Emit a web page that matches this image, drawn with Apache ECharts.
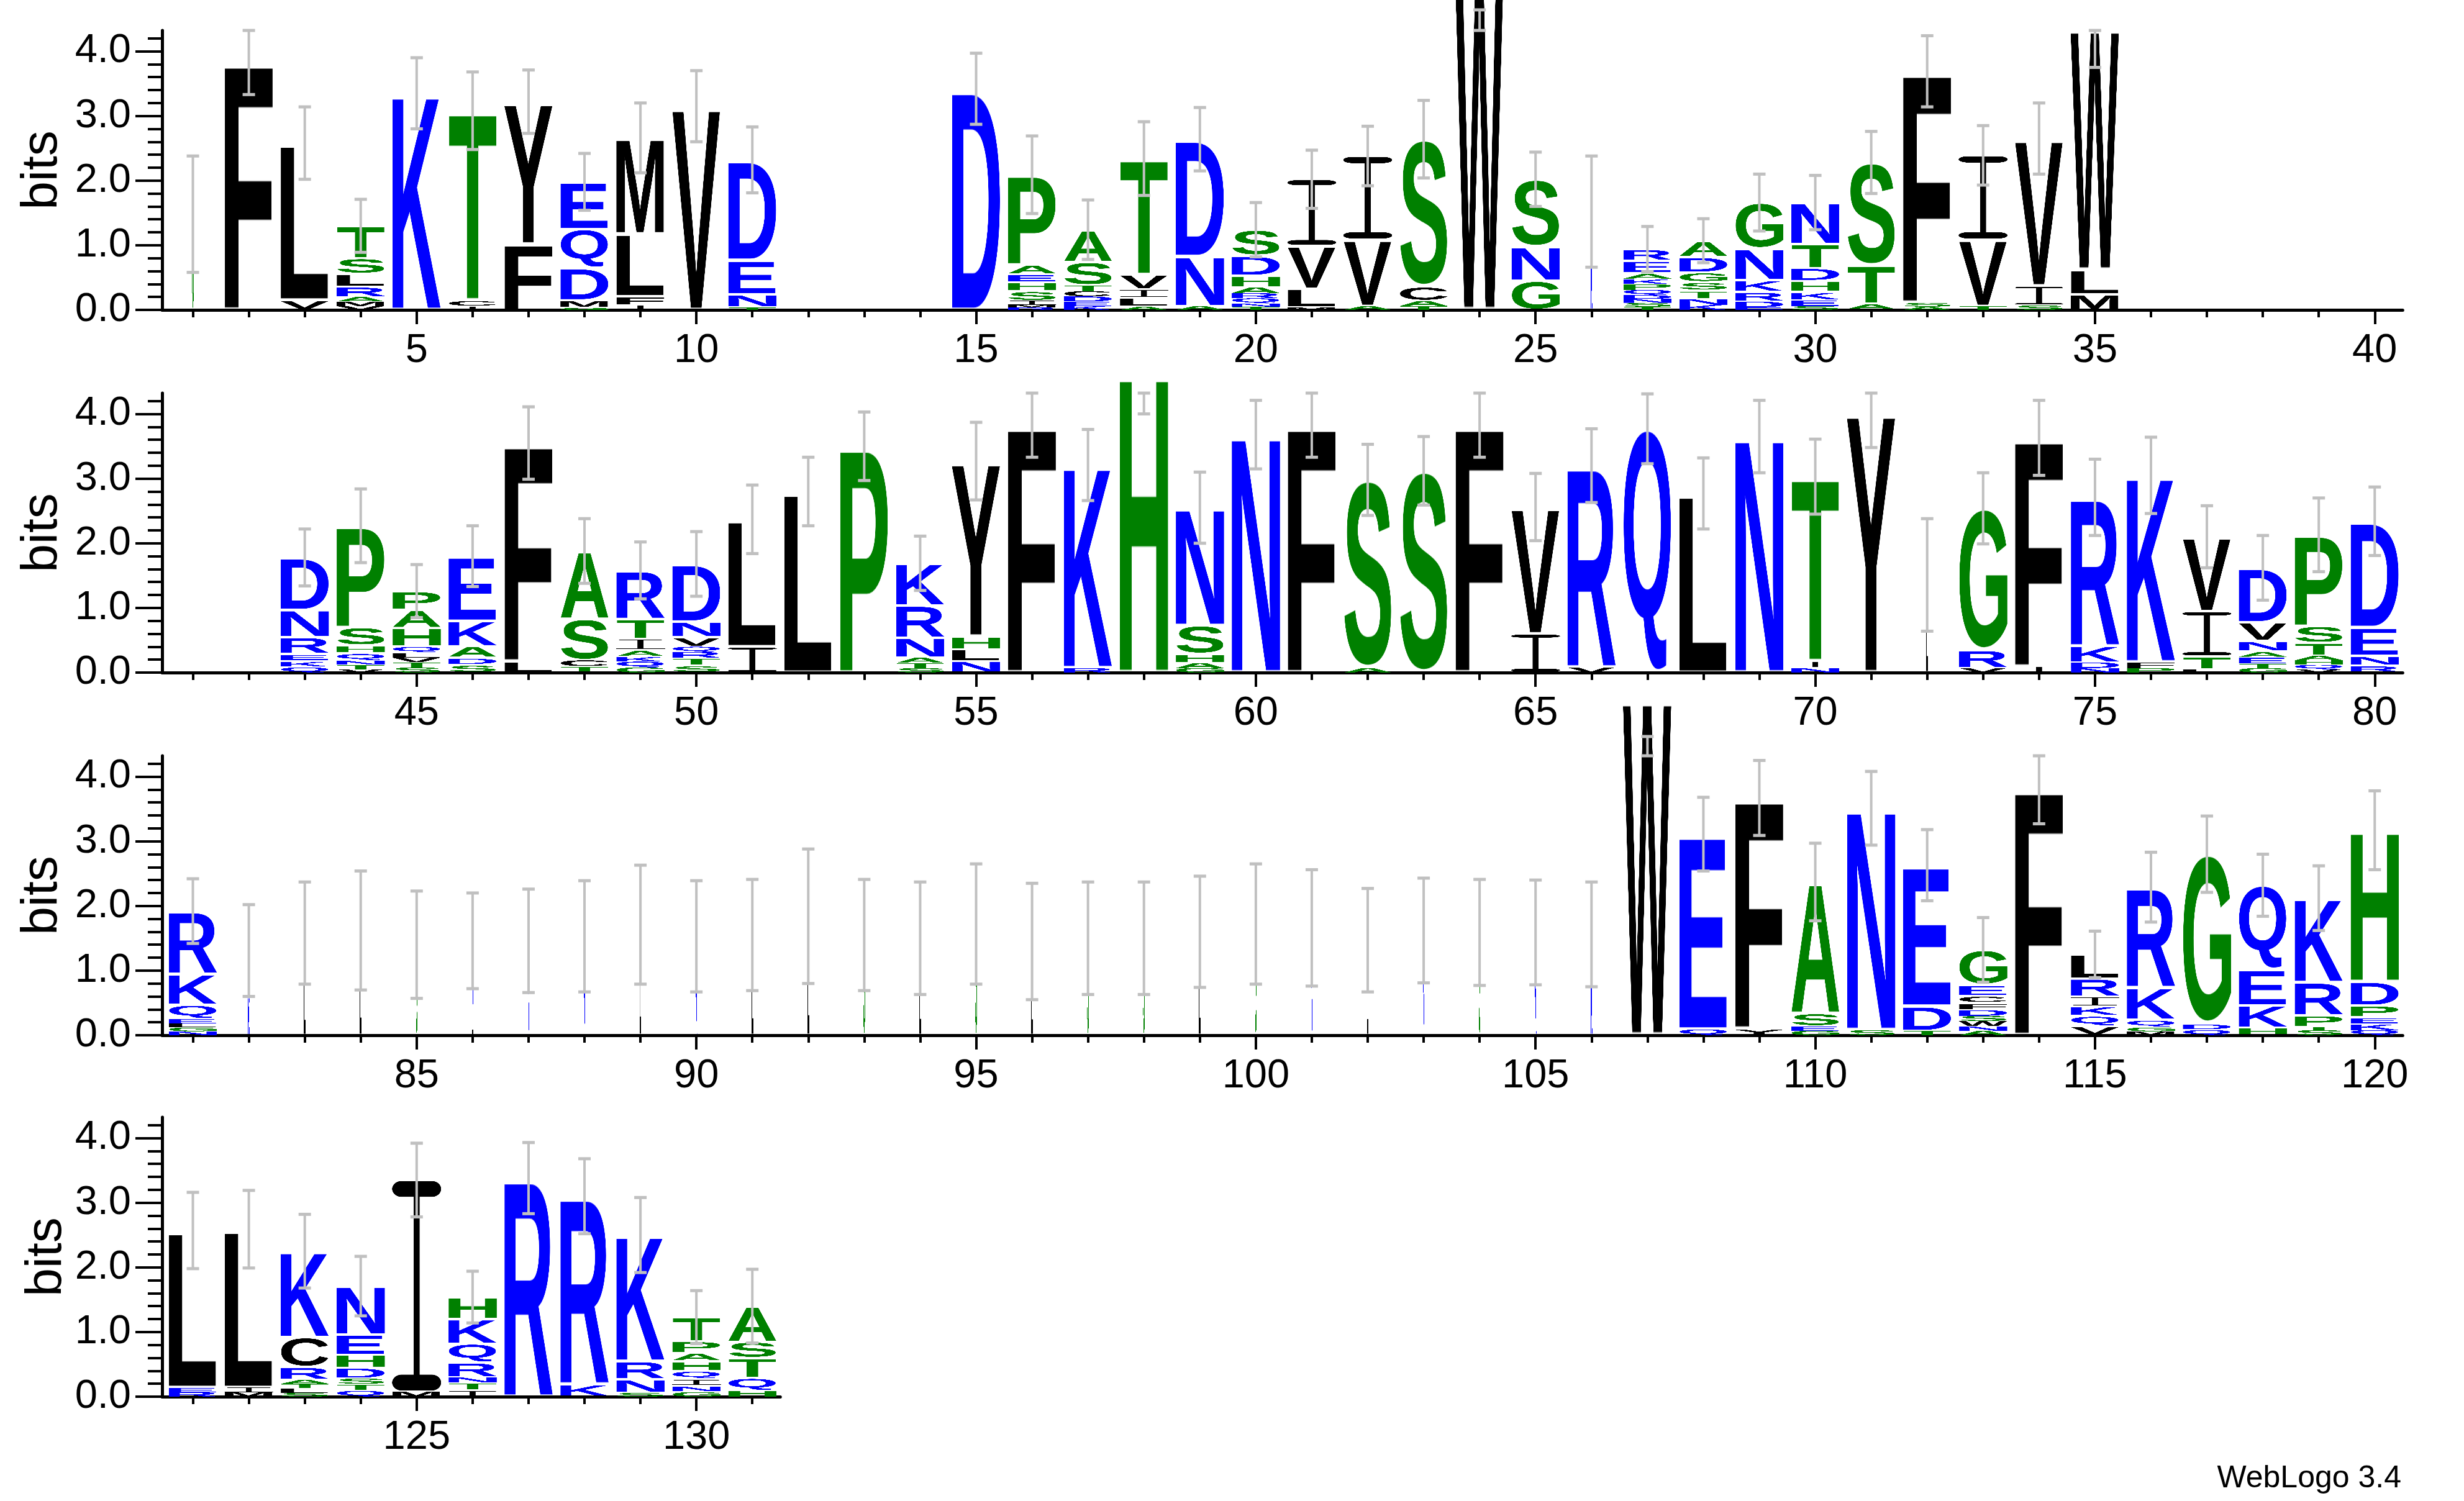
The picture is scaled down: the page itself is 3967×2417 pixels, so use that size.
<!DOCTYPE html>
<html>
<head>
<meta charset="utf-8">
<title>WebLogo</title>
<script src="https://cdn.jsdelivr.net/npm/echarts@6/dist/echarts.min.js"></script>
<style>
html,body{margin:0;padding:0;background:#fff;}
#main{width:3967px;height:2417px;}
</style>
</head>
<body>
<div id="main"></div>
<script>
// each stack: letters bottom -> top, [residue, bits]
var row1Stacks = [
  [['G',1.48]], [['F',3.84]], [['V',0.15],['L',2.43]],
  [['V',0.06],['M',0.07],['A',0.07],['R',0.16],['L',0.2],['S',0.24],['T',0.5]],
  [['K',3.35]], [['I',0.05],['C',0.1],['T',2.93]], [['F',1.02],['Y',2.2]],
  [['G',0.03],['M',0.12],['D',0.5],['Q',0.6],['E',0.73]],
  [['I',0.07],['F',0.14],['L',0.97],['M',1.48]], [['V',3.15]],
  [['T',0.04],['N',0.2],['E',0.53],['D',1.55]], [], [], [],
  [['D',3.42]],
  [['R',0.04],['M',0.04],['I',0.06],['S',0.15],['H',0.14],['E',0.12],['A',0.15],['P',1.39]],
  [['K',0.06],['E',0.07],['D',0.08],['C',0.08],['T',0.09],['S',0.36],['A',0.5]],
  [['A',0.05],['L',0.14],['I',0.13],['V',0.23],['T',1.79]],
  [['A',0.06],['N',0.77],['D',1.81]],
  [['T',0.05],['N',0.05],['Q',0.08],['R',0.08],['A',0.09],['H',0.18],['D',0.31],['S',0.4]],
  [['M',0.04],['L',0.29],['V',0.66],['I',1.03]], [['A',0.06],['V',1.03],['I',1.29]],
  [['T',0.06],['A',0.08],['C',0.22],['S',2.28]], [['W',5.25]],
  [['G',0.45],['N',0.53],['S',1.04]], [['K',1.52]],
  [['T',0.05],['S',0.06],['N',0.06],['D',0.06],['Q',0.08],['P',0.09],['K',0.07],['A',0.1],['E',0.19],['R',0.18]],
  [['K',0.08],['N',0.09],['T',0.13],['S',0.13],['G',0.15],['D',0.24],['A',0.25]],
  [['E',0.04],['D',0.09],['R',0.15],['K',0.18],['N',0.49],['G',0.71]],
  [['S',0.06],['E',0.09],['K',0.13],['H',0.17],['D',0.2],['T',0.37],['N',0.64]],
  [['A',0.1],['T',0.59],['S',1.59]], [['A',0.05],['S',0.06],['F',3.58]],
  [['T',0.06],['V',1.03],['I',1.3]], [['S',0.07],['I',0.3],['V',2.28]],
  [['M',0.24],['L',0.38],['W',3.76]], [], [], [], [], []
];
var row2Stacks = [
  [], [],
  [['Q',0.08],['K',0.1],['E',0.11],['R',0.26],['N',0.42],['D',0.81]],
  [['V',0.05],['T',0.07],['N',0.06],['Q',0.12],['H',0.12],['S',0.28],['P',1.57]],
  [['S',0.08],['T',0.08],['V',0.07],['L',0.07],['Q',0.11],['H',0.28],['A',0.28],['P',0.29]],
  [['S',0.12],['D',0.11],['A',0.18],['K',0.39],['E',1.0]],
  [['L',0.17],['F',3.38]], [['T',0.1],['C',0.09],['S',0.64],['A',1.05]],
  [['G',0.08],['Q',0.09],['K',0.07],['A',0.11],['I',0.17],['T',0.31],['R',0.75]],
  [['S',0.11],['T',0.12],['R',0.09],['Q',0.08],['V',0.15],['N',0.24],['D',0.89]],
  [['I',0.4],['L',1.97]], [['L',2.8]], [['P',3.5]],
  [['S',0.07],['T',0.08],['A',0.08],['N',0.31],['R',0.5],['K',0.65]],
  [['N',0.18],['L',0.18],['H',0.2],['Y',2.71]], [['F',3.83]], [['R',0.07],['K',3.14]],
  [['H',4.62]], [['G',0.07],['A',0.08],['H',0.14],['S',0.44],['N',1.82]],
  [['N',3.68]], [['F',3.83]], [['A',0.07],['S',2.91]], [['S',3.12]], [['F',3.83]],
  [['I',0.6],['V',1.96]], [['V',0.08],['R',3.12]], [['Q',3.77]], [['L',2.77]], [['N',3.65]],
  [['N',0.07],['I',0.11],['T',2.85]], [['Y',4.04]], [['L',1.51]],
  [['V',0.07],['R',0.28],['G',2.19]], [['I',0.09],['F',3.54]],
  [['N',0.07],['D',0.09],['K',0.25],['R',2.3]], [['P',0.07],['F',0.09],['K',2.89]],
  [['L',0.05],['T',0.2],['I',0.7],['V',1.15]],
  [['G',0.07],['T',0.07],['E',0.09],['A',0.1],['N',0.16],['V',0.29],['D',0.84]],
  [['V',0.05],['Q',0.07],['H',0.07],['A',0.07],['T',0.2],['S',0.26],['P',1.41]],
  [['R',0.11],['N',0.15],['E',0.44],['D',1.64]]
];
var row3Stacks = [
  [['N',0.06],['G',0.06],['L',0.06],['E',0.07],['Q',0.22],['K',0.48],['R',0.97]],
  [['K',0.6],['L',0.35],['G',0.36]], [['L',1.4],['K',0.18]], [['L',1.62]], [['S',1.4]],
  [['L',0.45],['K',1.01]], [['K',1.46]], [['R',1.53]], [['L',1.71]], [['K',1.53]],
  [['L',1.55]], [['L',1.84]], [['S',1.55]], [['L',1.5]], [['S',1.72]], [['L',1.45]],
  [['S',1.5]], [['S',1.5]], [['L',1.6]], [['S',1.72]], [['K',1.66]], [['L',1.47]],
  [['K',1.62]], [['S',1.59]], [['K',1.59]], [['K',1.56]],
  [['W',5.23]], [['Q',0.09],['E',3.02]], [['Y',0.1],['F',3.57]],
  [['G',0.07],['E',0.07],['S',0.2],['A',2.03]], [['S',0.08],['N',3.43]],
  [['T',0.07],['D',0.38],['E',2.18]],
  [['A',0.07],['N',0.07],['W',0.08],['S',0.08],['D',0.09],['F',0.11],['C',0.11],['E',0.17],['G',0.54]],
  [['F',3.82]], [['V',0.14],['Q',0.16],['K',0.15],['I',0.15],['R',0.28],['L',0.37]],
  [['M',0.06],['G',0.06],['Q',0.12],['K',0.5],['R',1.55]],
  [['Q',0.08],['D',0.1],['G',2.62]], [['H',0.12],['K',0.34],['E',0.56],['Q',1.3]],
  [['S',0.08],['T',0.05],['P',0.18],['R',0.51],['K',1.3]],
  [['Q',0.08],['K',0.09],['E',0.11],['P',0.18],['D',0.37],['H',2.34]]
];
var row4Stacks = [
  [['R',0.07],['E',0.07],['L',2.43]], [['M',0.07],['I',0.07],['L',2.45]],
  [['S',0.06],['L',0.07],['T',0.07],['A',0.06],['R',0.2],['C',0.46],['K',1.33]],
  [['Q',0.09],['T',0.11],['S',0.08],['D',0.17],['H',0.2],['E',0.31],['N',0.75]],
  [['M',0.08],['I',3.27]],
  [['I',0.1],['T',0.12],['N',0.08],['R',0.23],['Q',0.29],['K',0.38],['H',0.34]],
  [['R',3.38]], [['K',0.19],['R',2.91]], [['S',0.06],['N',0.21],['R',0.28],['K',1.95]],
  [['G',0.07],['N',0.1],['I',0.1],['Q',0.13],['H',0.15],['A',0.13],['P',0.18],['T',0.37]],
  [['H',0.09],['Q',0.2],['T',0.31],['S',0.25],['A',0.55]]
];

// error bar half widths (bits)
var row1Err = [0.9,0.51,0.56,0.41,0.55,0.6,0.49,0.44,0.54,0.55,0.51,0,0,0,0.55,0.6,0.46,0.57,0.49,0.42,
  0.45,0.46,0.6,0.61,0.42,0.86,0.35,0.34,0.44,0.42,0.48,0.55,0.46,0.55,0.63,0,0,0,0,0];
var row2Err = [0,0,0.44,0.57,0.41,0.47,0.56,0.5,0.44,0.5,0.53,0.53,0.53,0.42,0.6,0.5,0.55,0.62,0.55,0.53,
  0.5,0.55,0.53,0.5,0.52,0.57,0.54,0.55,0.56,0.58,0.56,0.87,0.55,0.58,0.59,0.59,0.48,0.5,0.57,0.53];
var row3Err = [0.5,0.71,0.79,0.92,0.83,0.74,0.8,0.86,0.92,0.86,0.86,1.04,0.86,0.87,0.93,0.9,0.87,0.87,0.86,0.93,
  0.9,0.8,0.81,0.82,0.81,0.81,0.61,0.57,0.58,0.6,0.57,0.55,0.5,0.55,0.36,0.54,0.59,0.48,0.5,0.61];
var row4Err = [0.59,0.6,0.57,0.46,0.57,0.4,0.55,0.58,0.58,0.41,0.57];

// stacks drawn with a thin width (few sequences without a gap)
var narrowPositions = [1,26,72,82,83,84,85,86,87,88,89,90,91,92,93,94,95,96,97,98,99,100,101,102,103,104,105,106];

var row1Labels = [5,10,15,20,25,30,35,40];
var row2Labels = [45,50,55,60,65,70,75,80];
var row3Labels = [85,90,95,100,105,110,115,120];
var row4Labels = [125,130];
var yLabels = [0,1,2,3,4];
var yMinor = [0.2,0.4,0.6,0.8,1.2,1.4,1.6,1.8,2.2,2.4,2.6,2.8,3.2,3.4,3.6,3.8,4.2];

var rows = [
  {start: 1, count: 40, stacks: row1Stacks, err: row1Err, labels: row1Labels, top: 49},
  {start: 41, count: 40, stacks: row2Stacks, err: row2Err, labels: row2Labels, top: 633},
  {start: 81, count: 40, stacks: row3Stacks, err: row3Err, labels: row3Labels, top: 1217},
  {start: 121, count: 11, stacks: row4Stacks, err: row4Err, labels: row4Labels, top: 1799}
];

var YMAX = Math.log2(20);
var STACK_W = 0.875, NARROW_W = 0.035;
var LETTERS = 'ACDEFGHIKLMNPQRSTVWY';
var ERR_COLOR = '#c0c0c0';

function residueColor(c) {
  if ('DENQKR'.indexOf(c) >= 0) return '#0000ff';
  if ('STGAPH'.indexOf(c) >= 0) return '#008000';
  return '#000000';
}

function roundBar(ctx, x, y, w, h) {
  var r = h / 2;
  ctx.beginPath();
  ctx.moveTo(x + r, y);
  ctx.lineTo(x + w - r, y);
  ctx.arc(x + w - r, y + r, r, -Math.PI / 2, Math.PI / 2);
  ctx.lineTo(x + r, y + h);
  ctx.arc(x + r, y + r, r, Math.PI / 2, Math.PI * 1.5);
  ctx.closePath();
  ctx.fill();
}

// tight glyph bitmaps, stretched into each letter box
var glyphs = {};
LETTERS.split('').forEach(function (c) {
  var cv = document.createElement('canvas');
  var ctx = cv.getContext('2d');
  if (c === 'I') {
    // weblogo style I: thin stem, rounded slabs
    cv.width = 200; cv.height = 1000;
    ctx.fillStyle = residueColor(c);
    roundBar(ctx, 0, 0, 200, 76);
    roundBar(ctx, 0, 924, 200, 76);
    ctx.fillRect(88, 60, 24, 880);
    glyphs[c] = cv;
    return;
  }
  var font = 'bold 400px "Liberation Sans"';
  ctx.font = font;
  var m = ctx.measureText(c);
  cv.width = Math.ceil(m.actualBoundingBoxLeft + m.actualBoundingBoxRight) + 2;
  cv.height = Math.ceil(m.actualBoundingBoxAscent + m.actualBoundingBoxDescent) + 2;
  ctx = cv.getContext('2d');
  ctx.font = font;
  ctx.fillStyle = residueColor(c);
  ctx.textBaseline = 'alphabetic';
  ctx.fillText(c, m.actualBoundingBoxLeft + 1, m.actualBoundingBoxAscent + 1);
  glyphs[c] = cv;
});

function renderLetter(params, api) {
  var x = api.value(0), w = api.value(3);
  var p0 = api.coord([x - w / 2, api.value(2)]);
  var p1 = api.coord([x + w / 2, api.value(1)]);
  var h = p1[1] - p0[1];
  var pad = h > 10 ? 1.5 : 0;
  return {
    type: 'image',
    style: {
      image: glyphs[LETTERS.charAt(api.value(4))],
      x: p0[0], y: p0[1] + pad, width: p1[0] - p0[0], height: h - 2 * pad
    }
  };
}

function renderErr(params, api) {
  var a = api.coord([api.value(0), api.value(1)]);
  var b = api.coord([api.value(0), api.value(2)]);
  var cw = 20, ch = 5;
  return {
    type: 'group',
    children: [
      {type: 'line', shape: {x1: a[0], y1: a[1], x2: b[0], y2: b[1]}, style: {stroke: ERR_COLOR, lineWidth: 4}},
      {type: 'rect', shape: {x: a[0] - cw / 2, y: a[1] - ch / 2, width: cw, height: ch}, style: {fill: ERR_COLOR}},
      {type: 'rect', shape: {x: b[0] - cw / 2, y: b[1] - ch / 2, width: cw, height: ch}, style: {fill: ERR_COLOR}}
    ]
  };
}

var labelFont = '"Liberation Sans", Arial, sans-serif';
var grids = [], xAxes = [], yAxes = [], series = [];

rows.forEach(function (row, r) {
  var positions = [];
  for (var i = 0; i < row.count; i++) positions.push(row.start + i);
  var xmin = row.start - 0.55, xmax = row.start + row.count - 0.5;
  grids.push({left: 261, top: row.top, width: (xmax - xmin) * 90.07, height: 450, outerBoundsMode: 'none'});

  xAxes.push({
    gridIndex: r, type: 'value', min: xmin, max: xmax, position: 'bottom',
    axisLine: {show: true, lineStyle: {color: '#000', width: 5}},
    axisTick: {show: true, customValues: positions, length: 12, lineStyle: {color: '#000', width: 4}},
    axisLabel: {show: false}, splitLine: {show: false}
  });
  xAxes.push({
    gridIndex: r, type: 'value', min: xmin, max: xmax, position: 'bottom', offset: 0,
    axisLine: {show: false},
    axisTick: {show: true, customValues: row.labels, length: 23, lineStyle: {color: '#000', width: 4}},
    axisLabel: {show: true, customValues: row.labels, margin: 34, fontSize: 65, fontFamily: labelFont, color: '#000'},
    splitLine: {show: false}
  });
  yAxes.push({
    gridIndex: r, type: 'value', min: 0, max: YMAX, position: 'left',
    name: 'bits', nameLocation: 'middle', nameGap: 140,
    nameTextStyle: {fontSize: 82, fontFamily: labelFont, color: '#000'},
    axisLine: {show: true, lineStyle: {color: '#000', width: 5}},
    axisTick: {show: true, customValues: yLabels, length: 43, lineStyle: {color: '#000', width: 4}},
    axisLabel: {
      show: true, customValues: yLabels, margin: 50, fontSize: 65, fontFamily: labelFont, color: '#000',
      formatter: function (v) { return Number(v).toFixed(1); }
    },
    splitLine: {show: false}
  });
  yAxes.push({
    gridIndex: r, type: 'value', min: 0, max: YMAX, position: 'left', offset: 0,
    axisLine: {show: false},
    axisTick: {show: true, customValues: yMinor, length: 23, lineStyle: {color: '#000', width: 4}},
    axisLabel: {show: false}, splitLine: {show: false}
  });

  var letterData = [], errData = [];
  row.stacks.forEach(function (stack, i) {
    var pos = row.start + i;
    var w = narrowPositions.indexOf(pos) >= 0 ? STACK_W * NARROW_W : STACK_W;
    var base = 0;
    stack.forEach(function (item) {
      letterData.push([pos, base, base + item[1], w, LETTERS.indexOf(item[0])]);
      base += item[1];
    });
    var e = row.err[i];
    if (e > 0) errData.push([pos, base - e, Math.min(base + e, YMAX)]);
  });

  series.push({
    type: 'custom', xAxisIndex: 2 * r, yAxisIndex: 2 * r, clip: false, z: 2,
    renderItem: renderLetter, data: letterData, silent: true
  });
  series.push({
    type: 'custom', xAxisIndex: 2 * r, yAxisIndex: 2 * r, clip: false, z: 3,
    renderItem: renderErr, data: errData, silent: true
  });
});

var chart = echarts.init(document.getElementById('main'), null, {renderer: 'canvas'});
chart.setOption({
  animation: false,
  backgroundColor: '#fff',
  grid: grids,
  xAxis: xAxes,
  yAxis: yAxes,
  series: series,
  graphic: [{
    type: 'text', right: 101, top: 2356,
    style: {text: 'WebLogo 3.4', fontSize: 50, fontFamily: labelFont, fill: '#000'}
  }]
});
</script>
</body>
</html>
